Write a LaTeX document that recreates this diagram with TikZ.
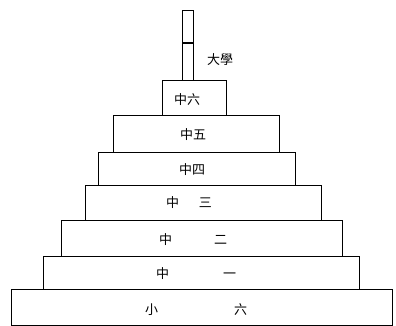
\documentclass[tikz,border=0pt]{standalone}
\usepackage{fontspec}
\usepackage{tikz}
\usetikzlibrary{positioning}
\newfontfamily\cjk{Noto Sans CJK TC}

\begin{document}
\begin{tikzpicture}[
  x=1pt, y=-1pt,
  tier/.style={draw, line width=1.1pt, anchor=north west, inner sep=0pt,
               minimum height=#1},
  tier/.default=35pt,
  pole/.style={draw, line width=1.1pt, anchor=north west, inner sep=0pt,
               minimum width=11pt, minimum height=70pt},
  grade/.style={font=\cjk\fontsize{13}{13}\selectfont, inner sep=0pt},
]
\useasboundingbox (0,0) rectangle (396,326);

%% Pole on top
\node[pole] (pole) at (182,10) {};
\draw[line width=1.1pt] (pole.west |- 0,43) -- (pole.east |- 0,43);
\node[grade] (uni) at (220,60) {大學};

%% Tiers, top to bottom
\node[tier=35pt, minimum width=64pt]  (s6) at (162,80)  {};
\node[tier=37pt, minimum width=166pt] (s5) at (113,115) {};
\node[tier=33pt, minimum width=197pt] (s4) at (98,152)  {};
\node[tier=35pt, minimum width=236pt] (s3) at (85,185)  {};
\node[tier=36pt, minimum width=281pt] (s2) at (61,220)  {};
\node[tier=33pt, minimum width=316pt] (s1) at (43,256)  {};
\node[tier=36pt, minimum width=381pt] (p6) at (11,289)  {};

%% Labels
\node[grade] (l6) at (187,100) {中六};
\node[grade] (l5) at (193,135) {中五};
\node[grade] (l4) at (192,170) {中四};
\node[grade] (l3) at (189,203) {中\hspace{20pt}三};
\node[grade] (l2) at (193,240) {中\hspace{42pt}二};
\node[grade] (l1) at (196,274) {中\hspace{54pt}一};
\node[grade] (lp) at (196,310) {小\hspace{76pt}六};

\end{tikzpicture}
\end{document}
